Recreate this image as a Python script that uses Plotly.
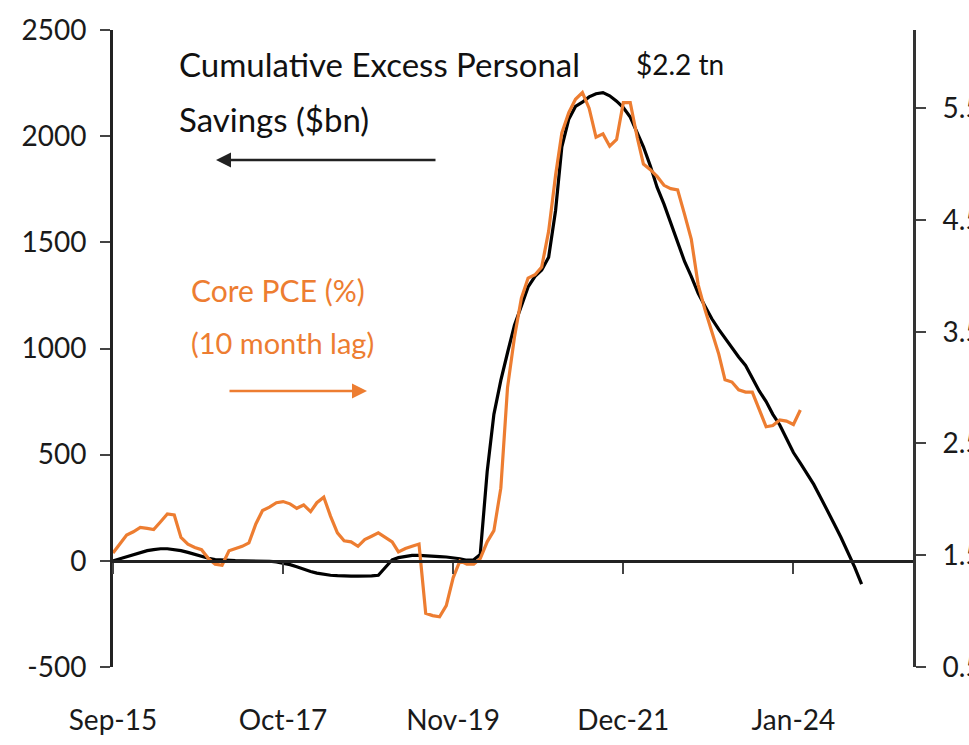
import pandas as pd
import plotly.graph_objects as go

# Cumulative excess personal savings ($bn), monthly from Sep-15
savings = [0, 10, 20, 30, 40, 48, 53, 57, 57, 54, 48, 40, 30, 20, 12, 6, 3, 2, 1, 0,
           0, 0, 0, -2, -5, -10, -18, -28, -40, -50, -58, -64, -68, -70, -72, -72, -72, -72, -71, -68,
           -30, 5, 15, 22, 26, 26, 25, 22, 20, 18, 15, 10, 3, 5, 30, 420, 690, 850, 980, 1110,
           1200, 1290, 1340, 1370, 1430, 1650, 1950, 2080, 2140, 2160, 2185, 2200, 2205, 2190, 2165, 2135, 2090, 2020, 1950, 1860,
           1760, 1680, 1590, 1500, 1410, 1340, 1260, 1200, 1140, 1090, 1050, 1000, 960, 920, 860, 800, 750, 690, 640, 580,
           510, 460, 410, 360, 300, 240, 175, 110, 40, -30, -110]

# Core PCE (%), 10 month lag, monthly from Sep-15
core_pce = [1.52, 1.60, 1.68, 1.71, 1.75, 1.74, 1.73, 1.80, 1.87, 1.86, 1.66, 1.60, 1.57, 1.55, 1.47, 1.42, 1.41, 1.54, 1.56, 1.58,
            1.61, 1.78, 1.90, 1.93, 1.97, 1.98, 1.96, 1.92, 1.95, 1.89, 1.97, 2.02, 1.85, 1.70, 1.63, 1.62, 1.58, 1.64, 1.67, 1.70,
            1.66, 1.62, 1.53, 1.56, 1.58, 1.60, 0.98, 0.96, 0.95, 1.05, 1.30, 1.45, 1.42, 1.42, 1.47, 1.62, 1.72, 2.10, 3.00, 3.45,
            3.80, 3.98, 4.01, 4.08, 4.40, 4.90, 5.28, 5.46, 5.58, 5.64, 5.50, 5.24, 5.27, 5.16, 5.22, 5.55, 5.55, 5.24, 5.00, 4.95,
            4.89, 4.81, 4.78, 4.77, 4.55, 4.33, 3.92, 3.70, 3.50, 3.30, 3.07, 3.05, 2.98, 2.96, 2.96, 2.80, 2.65, 2.66, 2.71, 2.70,
            2.67, 2.80]

start_month = "2015-09-01"
tick_dates = ["2015-09-01", "2017-10-01", "2019-11-01", "2021-12-01", "2024-01-01"]
tick_labels = ["Sep-15", "Oct-17", "Nov-19", "Dec-21", "Jan-24"]
left_ticks = [-500, 0, 500, 1000, 1500, 2000, 2500]
left_labels = ["-500", "0", "500", "1000", "1500", "2000", "2500"]
right_ticks = [0.5, 1.5, 2.5, 3.5, 4.5, 5.5]
right_labels = ["0.5", "1.5", "2.5", "3.5", "4.5", "5.5"]

sav_dates = pd.date_range(start_month, periods=len(savings), freq="MS")
pce_dates = pd.date_range(start_month, periods=len(core_pce), freq="MS")

FONT = "Lato"
ORANGE = "#ED7D31"

fig = go.Figure()
fig.add_trace(go.Scatter(x=sav_dates, y=savings, mode="lines",
                         line=dict(color="#000000", width=3.2), xaxis="x", yaxis="y",
                         showlegend=False, hoverinfo="skip"))
fig.add_trace(go.Scatter(x=pce_dates, y=core_pce, mode="lines",
                         line=dict(color=ORANGE, width=3.2), xaxis="x2", yaxis="y2",
                         showlegend=False, hoverinfo="skip"))

xr = ["2015-09-01", "2025-06-19"]
W, H = 969, 745
L, R, T, B = 113, 56, 30, 78

def px(x):
    return (x - L) / (W - L - R)

def py(y):
    return (H - B - y) / (H - T - B)

fig.update_layout(
    width=W, height=H,
    margin=dict(l=L, r=R, t=T, b=B, autoexpand=False),
    paper_bgcolor="white", plot_bgcolor="white",
    font=dict(family=FONT, size=28, color="#1a1a1a"),
    xaxis=dict(range=xr, anchor="free", position=500 / 3000, showline=True,
               linecolor="#222222", linewidth=3, ticks="outside", ticklen=11,
               tickwidth=2, tickcolor="#444444", tickvals=tick_dates,
               showticklabels=False, showgrid=False, zeroline=False, automargin=False),
    xaxis2=dict(range=xr, overlaying="x", anchor="free", position=0, showline=False,
                ticks="", tickvals=tick_dates, ticktext=tick_labels,
                showticklabels=True, ticklabelstandoff=34, showgrid=False,
                zeroline=False, automargin=False),
    yaxis=dict(range=[-500, 2500], tickvals=left_ticks, ticktext=left_labels, showline=True,
               linecolor="#222222", linewidth=3, ticks="outside", ticklen=10,
               tickwidth=2, tickcolor="#444444", ticklabelstandoff=8,
               showgrid=False, zeroline=False, automargin=False),
    yaxis2=dict(range=[0.5, 6.2], tickvals=right_ticks, ticktext=right_labels,
                overlaying="y", side="right", ticklabeloverflow="allow",
                anchor="x2", showline=True, linecolor="#333333", linewidth=3,
                ticks="outside", ticklen=10, tickwidth=2, tickcolor="#444444",
                ticklabelstandoff=11, showgrid=False, zeroline=False, automargin=False),
)

annotations = [
    dict(text="Cumulative Excess Personal", x=px(177), y=py(64),
         xanchor="left", yanchor="middle", showarrow=False,
         font=dict(size=33, color="#111111")),
    dict(text="Savings ($bn)", x=px(177), y=py(119),
         xanchor="left", yanchor="middle", showarrow=False,
         font=dict(size=33, color="#111111")),
    dict(text="$2.2 tn", x=px(634), y=py(64), xanchor="left", yanchor="middle",
         showarrow=False, font=dict(size=28, color="#111111")),
    dict(text="Core PCE (%)", x=px(189), y=py(290),
         xanchor="left", yanchor="middle", showarrow=False,
         font=dict(size=30, color=ORANGE)),
    dict(text="(10 month lag)", x=px(189), y=py(342),
         xanchor="left", yanchor="middle", showarrow=False,
         font=dict(size=29, color=ORANGE)),
    dict(text="", x=px(216), y=py(160), ax=437 - 216, ay=0, showarrow=True,
         arrowhead=2, arrowsize=1.2, arrowwidth=2.5, arrowcolor="#222222"),
    dict(text="", x=px(367), y=py(391), ax=228 - 367, ay=0, showarrow=True,
         arrowhead=2, arrowsize=1.2, arrowwidth=2.5, arrowcolor=ORANGE),
]
for a in annotations:
    a.setdefault("xref", "paper")
    a.setdefault("yref", "paper")
fig.update_layout(annotations=annotations)

# remove the default page margin so the figure fills the 969x745 window exactly
fig.write_html("out.html", config={"displayModeBar": False},
               post_script="document.body.style.margin='0';document.body.style.overflow='hidden';")
